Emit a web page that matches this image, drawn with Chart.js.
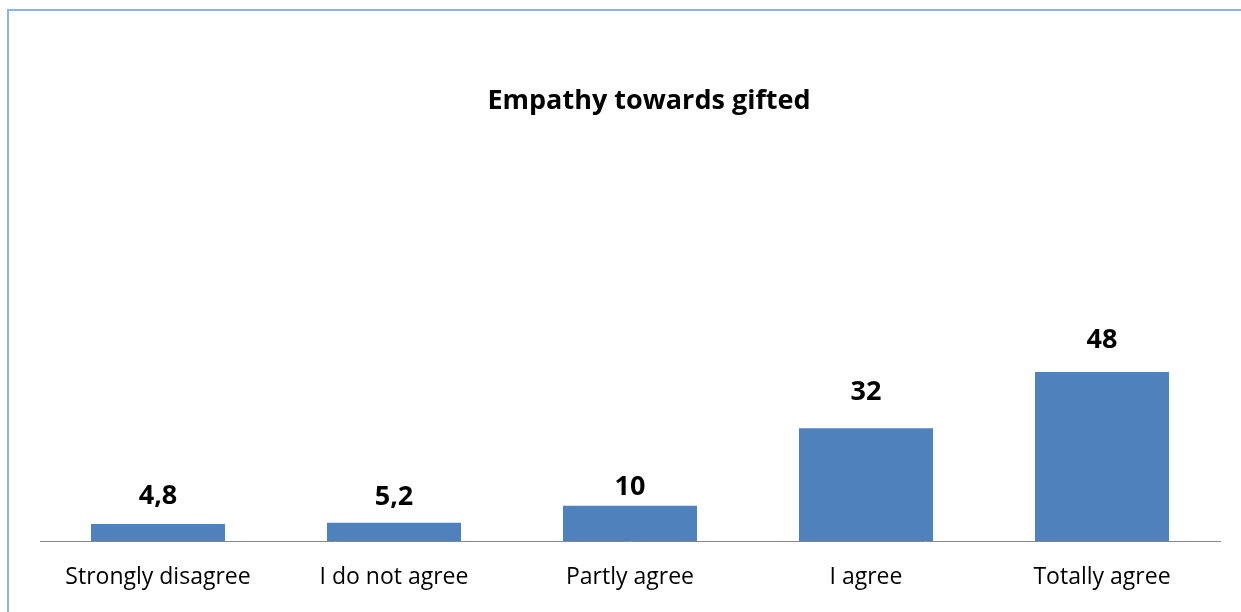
<!DOCTYPE html>
<html>
<head>
<meta charset="utf-8">
<script src="https://cdn.jsdelivr.net/npm/chart.js@4/dist/chart.umd.min.js"></script>
<style>
  html, body { margin: 0; padding: 0; background: #ffffff; }
  #wrap { position: relative; width: 1241px; height: 612px; }
</style>
</head>
<body>
<div id="wrap"><canvas id="chart" width="1241" height="612"></canvas></div>
<script>
// Survey answers and their percentages
const categories = ['Strongly disagree', 'I do not agree', 'Partly agree', 'I agree', 'Totally agree'];
const values = [4.8, 5.2, 10, 32, 48];

const chartTitle = 'Empathy towards gifted';
const barColor = '#4f81bd';
const fontFamily = '"Open Sans", "Liberation Sans", sans-serif';
// Distance between value label baseline and bar top, per bar
const labelGap = [20, 18, 11, 28, 24];

// Light blue frame along the top and left edge, plus the centred title
const framePlugin = {
  id: 'frame',
  beforeDraw(chart) {
    const ctx = chart.ctx;
    ctx.save();
    ctx.strokeStyle = '#8db3e2';
    ctx.lineWidth = 2;
    ctx.beginPath();
    ctx.moveTo(8, chart.height);
    ctx.lineTo(8, 10);
    ctx.lineTo(chart.width, 10);
    ctx.stroke();

    ctx.font = 'bold 27px ' + fontFamily;
    ctx.fillStyle = '#000000';
    ctx.textAlign = 'center';
    ctx.textBaseline = 'middle';
    ctx.fillText(chartTitle, 649, 101);
    ctx.restore();
  }
};

// Value labels above each bar, decimal comma
const valueLabelPlugin = {
  id: 'valueLabels',
  afterDatasetsDraw(chart) {
    const ctx = chart.ctx;
    const meta = chart.getDatasetMeta(0);
    ctx.save();
    ctx.font = 'bold 27px ' + fontFamily;
    ctx.fillStyle = '#000000';
    ctx.textAlign = 'center';
    ctx.textBaseline = 'alphabetic';
    meta.data.forEach((bar, i) => {
      const txt = String(values[i]).replace('.', ',');
      ctx.fillText(txt, bar.x, bar.y - labelGap[i]);
    });
    ctx.restore();
  }
};

new Chart(document.getElementById('chart'), {
  type: 'bar',
  data: {
    labels: categories,
    datasets: [{
      data: values,
      backgroundColor: barColor,
      borderWidth: 0,
      categoryPercentage: 1,
      barPercentage: 0.568
    }]
  },
  options: {
    responsive: false,
    animation: false,
    layout: { padding: { left: 40, right: 21, top: 189, bottom: 0 } },
    plugins: {
      legend: { display: false },
      tooltip: { enabled: false },
      title: { display: false }
    },
    scales: {
      x: {
        grid: { display: false, drawTicks: false },
        border: { display: true, color: '#868686', width: 1 },
        ticks: {
          color: '#000000',
          padding: 23,
          font: { family: fontFamily, size: 23 },
          maxRotation: 0
        },
        afterFit(scale) { scale.height = 71; }
      },
      y: {
        display: false,
        min: 0,
        max: 100
      }
    }
  },
  plugins: [framePlugin, valueLabelPlugin]
});
</script>
</body>
</html>
